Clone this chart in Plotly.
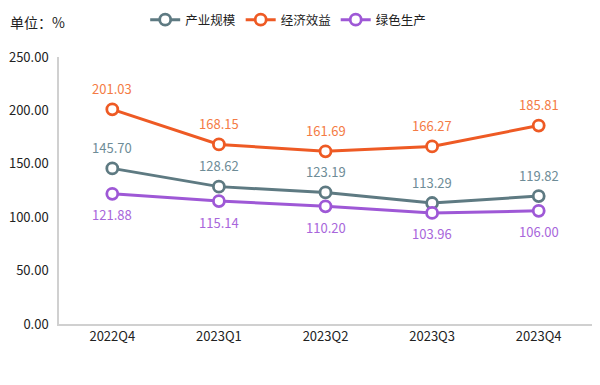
import plotly.graph_objects as go

categories = ["2022Q4", "2023Q1", "2023Q2", "2023Q3", "2023Q4"]
scale = [145.70, 128.62, 123.19, 113.29, 119.82]
benefit = [201.03, 168.15, 161.69, 166.27, 185.81]
green = [121.88, 115.14, 110.20, 103.96, 106.00]
y_ticks = [0, 50, 100, 150, 200, 250]

series = [
    ("产业规模", scale, "#5E7A82", "#6E8C97", 1),
    ("经济效益", benefit, "#EE5A24", "#F47B45", 1),
    ("绿色生产", green, "#9E58D6", "#A866DB", -1),
]

FONT = "Noto Sans CJK SC, Microsoft YaHei, sans-serif"
fig = go.Figure()
annotations = []
for name, vals, color, lcolor, side in series:
    fig.add_trace(go.Scatter(
        x=categories, y=vals, name=name, mode="lines+markers",
        line=dict(color=color, width=3),
        marker=dict(symbol="circle", size=11, color="white",
                    line=dict(color=color, width=2.8)),
    ))
    for c, v in zip(categories, vals):
        annotations.append(dict(
            x=c, y=v, xref="x", yref="y", text=f"{v:.2f}", showarrow=False,
            yshift=21 * side, font=dict(color=lcolor, size=13, family=FONT),
        ))

annotations.append(dict(
    xref="paper", yref="paper", x=-51 / 533, y=1 + 35 / 267,
    xanchor="left", yanchor="middle", text="单位：%", showarrow=False,
    font=dict(size=14, color="#222", family=FONT),
))

fig.update_layout(
    width=592, height=377,
    margin=dict(l=51, r=8, t=49, b=61, autoexpand=False),
    paper_bgcolor="white", plot_bgcolor="white",
    font=dict(family=FONT, size=13, color="#222"),
    showlegend=True,
    legend=dict(orientation="h", x=0.43, xanchor="center", y=1 + 37 / 267,
                yanchor="middle", font=dict(size=12.5, color="#222"),
                itemwidth=30, tracegroupgap=0, bgcolor="rgba(0,0,0,0)"),
    annotations=annotations,
    xaxis=dict(showgrid=False, showline=True, linecolor="#D0D0D0", linewidth=1.5,
               range=[-0.5, 4.5], automargin=False,
               ticks="", tickfont=dict(size=13, color="#222")),
    yaxis=dict(range=[0, 250], tickvals=y_ticks, tickformat=".2f", showgrid=False,
               zeroline=False, showline=True, linecolor="#D0D0D0", linewidth=1.5,
               automargin=False,
               ticks="", tickfont=dict(size=13, color="#222"), ticklabelstandoff=6),
)
fig.write_html("out.html")
